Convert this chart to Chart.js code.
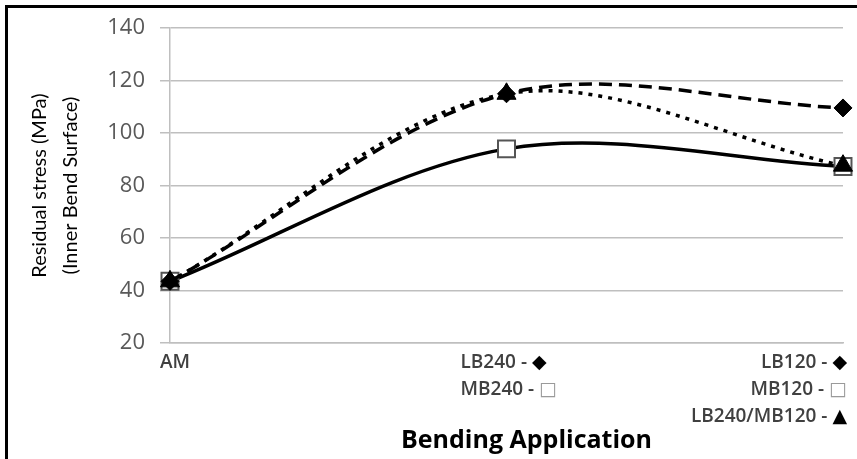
<!DOCTYPE html>
<html>
<head>
<meta charset="utf-8">
<script src="https://cdn.jsdelivr.net/npm/chart.js@4.4.1/dist/chart.umd.min.js"></script>
<style>
  html, body { margin: 0; padding: 0; background: #fff; }
  canvas { display: block; }
</style>
</head>
<body>
<canvas id="chart" width="857" height="459"></canvas>
<script>
// categories along the x axis (multi-line labels with marker keys)
const categories = ['AM', 'LB240/MB240', 'LB120/MB120'];
const categoryLabels = [
  ['AM'],
  ['LB240 - ◆', 'MB240 - □'],
  ['LB120 - ◆', 'MB120 - □', 'LB240/MB120 - ▲']
];
const xTitle = 'Bending Application';

// residual stress values (MPa)
const lbValues = [43.5, 115.0, 109.6];     // dashed, diamonds
const mbValues = [43.5, 94.0, 87.3];       // solid, open squares
const mixedValues = [43.5, 115.0, 87.6];   // dotted, triangles

const yTicks = [20, 40, 60, 80, 100, 120, 140];

const GRID = '#bfbfbf';

// black frame along top and left edges
const framePlugin = {
  id: 'frame',
  beforeDraw(chart) {
    const ctx = chart.ctx;
    ctx.save();
    ctx.fillStyle = '#000';
    ctx.fillRect(5, 5, chart.width - 5, 3);
    ctx.fillRect(5, 5, 3, chart.height - 5);
    ctx.restore();
  }
};

// x tick labels drawn with per-category alignment, plus axis title
const xLabelPlugin = {
  id: 'xLabels',
  afterDraw(chart) {
    const ctx = chart.ctx;
    const x = chart.scales.x;
    const aligns = ['left', 'left', 'right'];
    const shifts = [-10, -46, 4];
    ctx.save();
    ctx.font = '600 19px "Open Sans", "DejaVu Sans", sans-serif';
    ctx.textBaseline = 'middle';
    categoryLabels.forEach((lines, i) => {
      const px = x.getPixelForValue(i) + shifts[i];
      lines.forEach((line, j) => {
        const py = x.top + 20 + j * 27;
        const sym = line.slice(-1);
        const hasSym = '◆□▲'.includes(sym);
        const textPart = hasSym ? line.slice(0, -1) : line;
        const symW = hasSym ? ctx.measureText(sym).width : 0;
        const textW = ctx.measureText(textPart).width;
        const start = aligns[i] === 'left' ? px : px - textW - symW;
        ctx.textAlign = 'left';
        ctx.fillStyle = '#404040';
        ctx.fillText(textPart, start, py);
        if (hasSym) {
          ctx.fillStyle = sym === '□' ? '#9a9a9a' : '#000';
          ctx.fillText(sym, start + textW, py);
        }
      });
    });

    // axis title, sits a little right of the plot centre in the original
    ctx.font = 'bold 25px "Open Sans", sans-serif';
    ctx.fillStyle = '#000';
    ctx.textAlign = 'center';
    ctx.fillText(xTitle, (x.left + x.right) / 2 + 20, x.top + 98);
    ctx.restore();
  }
};

new Chart(document.getElementById('chart'), {
  type: 'line',
  data: {
    labels: categories,
    datasets: [
      {
        label: 'LB240/MB120',
        data: mixedValues,
        borderColor: '#000',
        borderWidth: 3.5,
        borderDash: [4, 6],
        tension: 0.33,
        pointStyle: 'triangle',
        pointRadius: 11,
        pointBackgroundColor: '#000',
        pointBorderColor: '#000',
        pointBorderWidth: 1,
        order: 0
      },
      {
        label: 'LB',
        data: lbValues,
        borderColor: '#000',
        borderWidth: 3.5,
        borderDash: [13, 7],
        tension: 0.33,
        pointStyle: 'rectRot',
        pointRadius: 9,
        pointBackgroundColor: '#000',
        pointBorderColor: '#000',
        pointBorderWidth: 1,
        order: 1
      },
      {
        label: 'MB',
        data: mbValues,
        borderColor: '#000',
        borderWidth: 3.5,
        tension: 0.33,
        pointStyle: 'rect',
        pointRadius: 12,
        pointBackgroundColor: '#fff',
        pointBorderColor: '#555',
        pointBorderWidth: 2,
        order: 2
      }
    ]
  },
  options: {
    responsive: false,
    animation: false,
    layout: { padding: { left: 10, right: 14, top: 25, bottom: 0 } },
    plugins: {
      legend: { display: false },
      tooltip: { enabled: false }
    },
    scales: {
      x: {
        ticks: { display: false },
        grid: { display: false, drawTicks: false },
        border: { display: true, color: GRID, width: 1.5 },
        afterFit(scale) { scale.height = 116; }
      },
      y: {
        min: 20,
        max: 140,
        afterBuildTicks(scale) { scale.ticks = yTicks.map(v => ({ value: v })); },
        ticks: {
          color: '#595959',
          padding: 15,
          font: { family: '"Open Sans", sans-serif', size: 22 }
        },
        grid: { color: GRID, lineWidth: 1.5, tickLength: 10, drawTicks: true },
        border: { display: true, color: GRID, width: 1.5 },
        title: {
          display: true,
          text: ['Residual stress (MPa)', '(Inner Bend Surface)'],
          color: '#000',
          font: { family: 'Lato, "Open Sans", sans-serif', size: 20, lineHeight: 1.55 },
          padding: { top: 14, bottom: 0 }
        },
        afterFit(scale) { scale.width = 160; }
      }
    }
  },
  plugins: [framePlugin, xLabelPlugin]
});
</script>
</body>
</html>
